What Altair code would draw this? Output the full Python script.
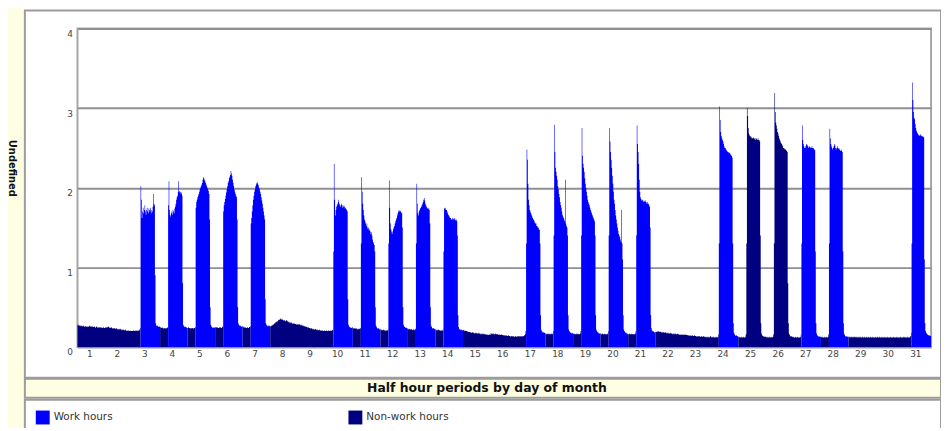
import altair as alt
import pandas as pd

# ---------------- data ----------------
DAYS = list(range(1, 32))
WORK_DAYS = [3, 4, 5, 6, 7, 10, 11, 12, 13, 14, 17, 18, 19, 20, 21, 24, 27, 28, 31]
WORK_START = 14            # first half-hour of the day counted as "work hours"
HALF_HOURS_PER_DAY = 48
SERIES = ["Work hours", "Non-work hours"]
COLORS = ["#0000FF", "#000080"]

d01 = [0.28,0.27,0.28,0.27,0.26,0.27,0.26,0.27,0.26,0.26,0.27,0.26,0.25,0.26,0.26,0.25,0.26,0.25,0.26,0.25,0.26,0.27,0.26,0.25,
       0.26,0.25,0.26,0.25,0.25,0.26,0.25,0.24,0.25,0.26,0.25,0.24,0.25,0.24,0.25,0.24,0.25,0.24,0.25,0.24,0.24,0.25,0.24,0.24]
d02 = [0.25,0.24,0.25,0.24,0.25,0.26,0.25,0.24,0.25,0.24,0.24,0.25,0.24,0.23,0.24,0.23,0.24,0.23,0.23,0.24,0.23,0.22,0.23,0.22,
       0.23,0.22,0.22,0.23,0.22,0.21,0.22,0.21,0.22,0.21,0.21,0.22,0.21,0.20,0.21,0.20,0.21,0.20,0.20,0.21,0.20,0.20,0.20,0.20]
d03 = ([0.20,0.21,0.20,0.20,0.21,0.20,0.20,0.21,0.20,0.21,0.20,0.21,0.22,0.24] +
       [2.02,1.85,1.62,1.70,1.75,1.68,1.72,1.78,1.70,1.66,1.72,1.75,1.70,1.68,1.74,1.72,1.70,1.75,1.72,1.68,1.70,1.76,1.92,1.80,1.78,0.90] +
       [0.30,0.27,0.26,0.27,0.26,0.25,0.26,0.25])
d04 = ([0.25,0.24,0.24,0.25,0.24,0.23,0.24,0.24,0.23,0.24,0.23,0.24,0.24,0.25] +
       [1.78,2.08,1.72,1.66,1.64,1.68,1.70,1.66,1.72,1.70,1.68,1.74,1.76,1.80,1.85,1.88,1.90,1.95,2.08,1.96,1.94,1.95,1.92,1.94,1.90,0.80] +
       [0.28,0.26,0.25,0.26,0.25,0.24,0.25,0.24])
d05 = ([0.24,0.25,0.24,0.24,0.23,0.24,0.24,0.23,0.24,0.24,0.23,0.24,0.24,0.25] +
       [1.75,1.82,1.85,1.88,1.90,1.92,1.95,1.98,2.00,2.02,2.04,2.06,2.10,2.13,2.12,2.10,2.08,2.06,2.04,2.02,2.00,1.98,1.96,1.92,1.60,0.50] +
       [0.28,0.26,0.25,0.24,0.25,0.24,0.24,0.25])
d06 = ([0.25,0.24,0.25,0.24,0.25,0.24,0.24,0.25,0.24,0.25,0.24,0.24,0.25,0.26] +
       [1.70,1.78,1.82,1.86,1.90,1.94,1.98,2.02,2.06,2.08,2.12,2.14,2.16,2.21,2.18,2.15,2.10,2.06,2.02,1.98,1.95,1.92,1.90,1.88,1.60,0.50] +
       [0.30,0.28,0.27,0.26,0.27,0.26,0.25,0.26])
d07 = ([0.26,0.25,0.24,0.25,0.24,0.25,0.24,0.24,0.25,0.24,0.24,0.25,0.25,0.26] +
       [1.55,1.62,1.70,1.78,1.85,1.90,1.95,1.98,2.02,2.04,2.06,2.07,2.05,2.03,2.00,1.98,1.95,1.92,1.88,1.84,1.80,1.75,1.70,1.65,1.60,0.60] +
       [0.30,0.28,0.27,0.26,0.27,0.26,0.27,0.26])
d08 = [0.26,0.26,0.27,0.27,0.28,0.28,0.29,0.30,0.30,0.31,0.31,0.32,0.32,0.33,0.34,0.35,0.34,0.35,0.36,0.35,0.34,0.35,0.34,0.33,
       0.34,0.33,0.32,0.33,0.34,0.33,0.32,0.31,0.32,0.31,0.30,0.31,0.30,0.31,0.30,0.29,0.30,0.29,0.30,0.29,0.29,0.28,0.29,0.28]
d09 = [0.29,0.28,0.29,0.28,0.28,0.27,0.28,0.27,0.27,0.26,0.27,0.26,0.26,0.25,0.26,0.25,0.25,0.24,0.25,0.24,0.24,0.24,0.23,0.24,
       0.23,0.23,0.22,0.23,0.22,0.22,0.23,0.22,0.22,0.21,0.22,0.21,0.21,0.22,0.21,0.21,0.20,0.21,0.20,0.21,0.20,0.20,0.21,0.20]
d10 = ([0.20,0.20,0.21,0.20,0.20,0.21,0.20,0.20,0.21,0.20,0.20,0.21,0.21,0.22] +
       [1.20,2.30,1.85,1.65,1.72,1.76,1.78,1.80,1.82,1.85,1.80,1.78,1.76,1.78,1.80,1.78,1.75,1.76,1.78,1.76,1.74,1.75,1.73,1.72,1.70,0.60] +
       [0.28,0.26,0.25,0.24,0.25,0.24,0.24,0.25])
d11 = ([0.24,0.23,0.24,0.23,0.23,0.24,0.23,0.23,0.22,0.23,0.22,0.23,0.23,0.24] +
       [1.30,2.13,1.95,1.80,1.72,1.65,1.60,1.58,1.55,1.52,1.55,1.50,1.48,1.50,1.46,1.48,1.45,1.42,1.44,1.40,1.35,1.32,1.30,1.28,1.20,0.50] +
       [0.27,0.25,0.24,0.23,0.24,0.23,0.22,0.23])
d12 = ([0.22,0.21,0.22,0.21,0.21,0.22,0.21,0.21,0.20,0.21,0.21,0.20,0.21,0.22] +
       [1.30,2.09,1.75,1.55,1.48,1.45,1.42,1.45,1.48,1.50,1.52,1.55,1.58,1.60,1.62,1.65,1.68,1.70,1.72,1.70,1.71,1.70,1.68,1.69,1.50,0.50] +
       [0.28,0.26,0.25,0.24,0.25,0.24,0.24,0.23])
d13 = ([0.23,0.22,0.23,0.22,0.22,0.23,0.22,0.22,0.21,0.22,0.22,0.21,0.22,0.23] +
       [1.30,2.05,1.80,1.68,1.65,1.70,1.72,1.74,1.75,1.76,1.78,1.80,1.82,1.85,1.87,1.84,1.80,1.78,1.76,1.75,1.74,1.73,1.75,1.72,1.55,0.50] +
       [0.27,0.25,0.24,0.23,0.24,0.23,0.23,0.22])
d14 = ([0.22,0.21,0.22,0.21,0.21,0.22,0.21,0.21,0.20,0.21,0.21,0.20,0.21,0.22] +
       [1.20,1.74,1.75,1.74,1.72,1.72,1.70,1.68,1.66,1.65,1.64,1.62,1.62,1.60,1.60,1.62,1.60,1.61,1.60,1.62,1.60,1.59,1.60,1.58,1.40,0.40] +
       [0.25,0.23,0.22,0.22,0.21,0.22,0.21,0.21])
d15 = [0.21,0.21,0.20,0.21,0.20,0.20,0.20,0.19,0.20,0.19,0.19,0.19,0.18,0.19,0.18,0.18,0.19,0.18,0.18,0.18,0.17,0.18,0.17,0.18,
       0.17,0.17,0.18,0.17,0.17,0.17,0.16,0.17,0.16,0.17,0.16,0.16,0.17,0.16,0.16,0.16,0.15,0.16,0.15,0.16,0.15,0.15,0.16,0.15]
d16 = [0.17,0.17,0.16,0.17,0.16,0.17,0.16,0.16,0.17,0.16,0.16,0.16,0.16,0.15,0.16,0.15,0.16,0.15,0.15,0.16,0.15,0.15,0.15,0.14,
       0.15,0.14,0.15,0.14,0.15,0.14,0.14,0.15,0.14,0.14,0.13,0.14,0.14,0.13,0.14,0.13,0.14,0.13,0.13,0.14,0.13,0.13,0.14,0.13]
d17 = ([0.14,0.13,0.14,0.13,0.14,0.13,0.14,0.14,0.13,0.14,0.14,0.15,0.16,0.20] +
       [1.30,2.48,2.35,2.05,1.85,1.78,1.72,1.70,1.68,1.66,1.64,1.62,1.60,1.60,1.58,1.56,1.55,1.55,1.52,1.52,1.50,1.50,1.48,1.47,1.30,0.40] +
       [0.22,0.20,0.19,0.18,0.19,0.18,0.18,0.17])
d18 = ([0.17,0.16,0.17,0.16,0.17,0.16,0.16,0.17,0.16,0.16,0.17,0.16,0.17,0.20] +
       [1.40,2.79,2.45,2.25,2.20,2.15,2.10,2.02,1.98,1.92,1.88,1.82,1.78,1.75,1.70,1.66,1.64,1.62,1.60,1.58,2.10,1.55,1.52,1.50,1.40,0.40] +
       [0.22,0.20,0.19,0.18,0.18,0.17,0.18,0.17])
d19 = ([0.17,0.16,0.17,0.16,0.16,0.17,0.16,0.16,0.17,0.16,0.16,0.16,0.17,0.20] +
       [1.40,2.75,2.40,2.30,2.25,2.20,2.12,2.05,2.00,1.95,1.90,1.85,1.82,1.80,1.78,1.75,1.72,1.70,1.68,1.66,1.64,1.62,1.60,1.58,1.40,0.40] +
       [0.22,0.20,0.19,0.18,0.18,0.17,0.17,0.17])
d20 = ([0.17,0.16,0.16,0.17,0.16,0.16,0.16,0.17,0.16,0.16,0.16,0.16,0.17,0.20] +
       [1.40,2.75,2.58,2.45,2.35,2.25,2.15,2.05,1.95,1.85,1.80,1.72,1.65,1.60,1.55,1.50,1.46,1.42,1.40,1.38,1.35,1.32,1.72,1.30,1.10,0.40] +
       [0.22,0.20,0.19,0.18,0.18,0.17,0.17,0.16])
d21 = ([0.16,0.16,0.17,0.16,0.16,0.16,0.17,0.16,0.16,0.16,0.16,0.16,0.17,0.20] +
       [1.40,2.78,2.55,2.45,2.30,2.10,1.95,1.88,1.86,1.84,1.85,1.84,1.82,1.84,1.83,1.82,1.84,1.82,1.80,1.82,1.80,1.80,1.78,1.76,1.50,0.40] +
       [0.24,0.21,0.20,0.19,0.20,0.19,0.18,0.19])
d22 = [0.19,0.19,0.20,0.19,0.20,0.19,0.19,0.20,0.19,0.19,0.18,0.19,0.18,0.19,0.18,0.18,0.19,0.18,0.18,0.17,0.18,0.17,0.18,0.17,
       0.17,0.18,0.17,0.17,0.17,0.16,0.17,0.16,0.17,0.16,0.17,0.16,0.16,0.17,0.16,0.16,0.16,0.15,0.16,0.15,0.16,0.15,0.15,0.16]
d23 = [0.15,0.16,0.15,0.15,0.16,0.15,0.15,0.15,0.14,0.15,0.14,0.15,0.14,0.15,0.14,0.14,0.15,0.14,0.14,0.15,0.14,0.14,0.14,0.13,
       0.14,0.13,0.14,0.13,0.14,0.13,0.13,0.14,0.13,0.13,0.13,0.14,0.13,0.13,0.13,0.12,0.13,0.12,0.13,0.12,0.13,0.12,0.13,0.14]
d24 = ([0.13,0.12,0.13,0.12,0.13,0.12,0.12,0.13,0.12,0.12,0.13,0.12,0.13,0.16] +
       [1.30,3.02,2.85,2.70,2.65,2.62,2.60,2.58,2.55,2.52,2.50,2.50,2.48,2.47,2.46,2.45,2.45,2.44,2.44,2.43,2.42,2.40,2.40,2.38,1.30,0.30] +
       [0.18,0.16,0.15,0.14,0.15,0.14,0.14,0.13])
d25 = ([0.13,0.12,0.13,0.12,0.12,0.13,0.12,0.12,0.13,0.12,0.12,0.12,0.13,0.16] +
       [1.30,3.00,2.90,2.75,2.68,2.66,2.65,2.64,2.64,2.62,2.62,2.62,2.63,2.62,2.61,2.62,2.60,2.62,2.61,2.60,2.62,2.60,2.60,2.58,1.40,0.30] +
       [0.17,0.15,0.14,0.13,0.14,0.13,0.13,0.13])
d26 = ([0.13,0.12,0.12,0.13,0.12,0.12,0.13,0.12,0.12,0.12,0.13,0.12,0.13,0.16] +
       [1.30,3.19,2.95,2.82,2.78,2.74,2.70,2.68,2.65,2.62,2.60,2.58,2.56,2.55,2.54,2.52,2.50,2.50,2.49,2.48,2.48,2.47,2.46,2.45,0.80,0.30] +
       [0.17,0.15,0.14,0.13,0.14,0.13,0.13,0.12])
d27 = ([0.13,0.12,0.12,0.13,0.12,0.12,0.12,0.13,0.12,0.12,0.12,0.12,0.13,0.16] +
       [1.30,2.78,2.60,2.55,2.52,2.50,2.50,2.52,2.54,2.55,2.53,2.52,2.50,2.51,2.52,2.50,2.51,2.50,2.52,2.50,2.49,2.50,2.48,2.47,1.20,0.30] +
       [0.17,0.15,0.14,0.13,0.14,0.13,0.13,0.13])
d28 = ([0.13,0.12,0.13,0.12,0.12,0.12,0.13,0.12,0.12,0.13,0.12,0.12,0.13,0.16] +
       [1.30,2.74,2.62,2.55,2.52,2.50,2.48,2.50,2.52,2.55,2.53,2.50,2.48,2.50,2.52,2.50,2.49,2.50,2.48,2.47,2.46,2.48,2.46,2.45,1.20,0.30] +
       [0.17,0.15,0.14,0.13,0.14,0.13,0.13,0.13])
d29 = [0.13,0.13,0.12,0.13,0.12,0.13,0.13,0.12,0.13,0.12,0.13,0.13,0.12,0.13,0.12,0.12,0.13,0.12,0.13,0.12,0.12,0.13,0.12,0.12,
       0.13,0.12,0.12,0.13,0.12,0.12,0.12,0.13,0.12,0.12,0.13,0.12,0.12,0.12,0.13,0.12,0.12,0.12,0.13,0.12,0.12,0.12,0.12,0.13]
d30 = [0.12,0.12,0.13,0.12,0.12,0.12,0.13,0.12,0.12,0.12,0.13,0.12,0.12,0.12,0.12,0.13,0.12,0.12,0.12,0.12,0.13,0.12,0.12,0.12,
       0.12,0.13,0.12,0.12,0.12,0.12,0.13,0.12,0.12,0.12,0.12,0.12,0.13,0.12,0.12,0.12,0.12,0.12,0.13,0.12,0.12,0.12,0.12,0.13]
d31 = ([0.12,0.12,0.13,0.12,0.12,0.12,0.13,0.12,0.12,0.12,0.12,0.13,0.14,0.18] +
       [1.30,3.32,3.10,2.95,2.88,2.86,2.80,2.75,2.72,2.70,2.68,2.67,2.66,2.66,2.65,2.67,2.66,2.65,2.64,2.65,2.64,2.63,1.10,0.30,0.20,0.18] +
       [0.17,0.16,0.15,0.15,0.14,0.15,0.14,0.14])

DAY_VALUES = [d01, d02, d03, d04, d05, d06, d07, d08, d09, d10, d11, d12, d13, d14, d15, d16,
              d17, d18, d19, d20, d21, d22, d23, d24, d25, d26, d27, d28, d29, d30, d31]

# ---------------- table for the step-area (one group per coloured run) ----------------
rows = []
seg = 0
prev_type = None
prev_v = None
for d, vals in zip(DAYS, DAY_VALUES):
    for hh, v in enumerate(vals):
        t = (d - 1) * HALF_HOURS_PER_DAY + hh
        typ = SERIES[0] if (d in WORK_DAYS and hh >= WORK_START) else SERIES[1]
        if prev_type is not None and typ != prev_type:
            rows.append({"t": t, "v": prev_v, "type": prev_type, "seg": seg})
            seg += 1
        rows.append({"t": t, "v": v, "type": typ, "seg": seg})
        prev_type, prev_v = typ, v
TOTAL = len(DAYS) * HALF_HOURS_PER_DAY
rows.append({"t": TOTAL, "v": prev_v, "type": prev_type, "seg": seg})
df = pd.DataFrame(rows)

tick_values = [(d - 1) * HALF_HOURS_PER_DAY + HALF_HOURS_PER_DAY // 2 for d in DAYS]

YELLOW = "#FEFEE2"
BORDER = "#9c9c9c"
one = pd.DataFrame({"k": [0]})

strip = alt.Chart(one).mark_rect(fill=YELLOW).encode(
    x=alt.value(-71), x2=alt.value(-53), y=alt.value(-20), y2=alt.value(420))
panel = alt.Chart(one).mark_rect(fillOpacity=0, stroke=BORDER, strokeWidth=2).encode(
    x=alt.value(-53), x2=alt.value(870), y=alt.value(-18), y2=alt.value(352))
band = alt.Chart(one).mark_rect(fill=YELLOW, stroke=BORDER, strokeWidth=2).encode(
    x=alt.value(-53), x2=alt.value(870), y=alt.value(353), y2=alt.value(372))
legbox = alt.Chart(one).mark_rect(fill="white", stroke=BORDER, strokeWidth=2).encode(
    x=alt.value(-53), x2=alt.value(870), y=alt.value(374), y2=alt.value(420))
ytitle = alt.Chart(one).mark_text(text="Undefined", angle=90, font="DejaVu Sans", fontSize=10,
                                  fontWeight="bold", color="#111", align="center", baseline="middle").encode(
    x=alt.value(-66), y=alt.value(141))

area = alt.Chart(df).mark_area(interpolate="step-after").encode(
    x=alt.X("t:Q", scale=alt.Scale(domain=[0, TOTAL], nice=False, zero=False),
            axis=alt.Axis(values=tick_values, labelExpr="floor(datum.value/48)+1",
                          title="Half hour periods by day of month", titleX=412, titleY=41,
                          titleAlign="center", titleBaseline="middle", titleFontSize=12.5,
                          titleFontWeight="bold", titleColor="#111", titleFont="DejaVu Sans",
                          grid=False, domain=False, ticks=False, labelPadding=3, labelOffset=-2,
                          labelFontSize=9, labelColor="#444", labelFont="DejaVu Sans",
                          labelOverlap=False, zindex=1)),
    y=alt.Y("v:Q", stack=None, scale=alt.Scale(domain=[0, 4], nice=False),
            axis=alt.Axis(values=[0, 1, 2, 3, 4], title=None, grid=True, gridColor="#8f8f8f",
                          gridWidth=2, domain=False, ticks=False, labelPadding=5,
                          labelBaseline="top", labelOffset=1, labelFontSize=9,
                          labelColor="#444", labelFont="DejaVu Sans", format="d")),
    color=alt.Color("type:N", scale=alt.Scale(domain=SERIES, range=COLORS),
                    legend=alt.Legend(orient="none", legendX=-42, legendY=385, direction="horizontal",
                                      title=None, symbolType="square", symbolSize=196,
                                      symbolStrokeWidth=0, symbolOpacity=1, labelFontSize=10.5,
                                      labelFont="DejaVu Sans", labelColor="#333", labelOffset=4,
                                      columnPadding=237, padding=0)),
    detail="seg:N",
)

chart = alt.layer(strip, panel, band, legbox, ytitle, area).properties(
    width=860, height=321,
    padding={"left": 70, "top": 19, "right": 10, "bottom": 80},
    autosize=alt.AutoSizeParams(type="none"),
).configure(background="white").configure_view(stroke="#a6a6a6", strokeWidth=2)

chart.save("out.html", embed_options={"renderer": "svg", "actions": False})
